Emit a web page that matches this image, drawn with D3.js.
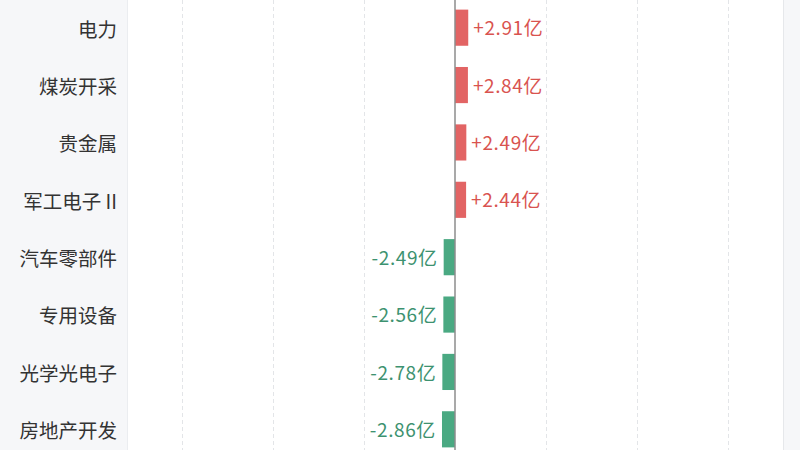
<!DOCTYPE html>
<html>
<head>
<meta charset="utf-8">
<script src="https://cdn.jsdelivr.net/npm/d3@7"></script>
<style>
  html, body { margin: 0; padding: 0; background: #fff; }
  svg { display: block; font-family: "Noto Sans CJK SC", "Noto Sans", sans-serif; }
</style>
</head>
<body>
<div id="chart"></div>
<script>
// industries and net flow (亿)
const industries = ['电力', '煤炭开采', '贵金属', '军工电子 II', '汽车零部件', '专用设备', '光学光电子', '房地产开发'];
const flows = [2.91, 2.84, 2.49, 2.44, -2.49, -2.56, -2.78, -2.86];
const gridTicks = [-60, -40, -20, 20, 40, 60];

const width = 800;
const height = 450;
const plot = { left: 127, right: 783 };

const svg = d3.select('#chart')
  .append('svg')
  .attr('width', width)
  .attr('height', height);

// side panels
svg.append('rect')
  .attr('x', 0).attr('y', 0)
  .attr('width', plot.left).attr('height', height)
  .attr('fill', '#f6f7f9');
svg.append('line')
  .attr('x1', plot.left + 0.5).attr('x2', plot.left + 0.5)
  .attr('y1', 0).attr('y2', height)
  .attr('stroke', '#ebedf0');
svg.append('rect')
  .attr('x', plot.right).attr('y', 0)
  .attr('width', width - plot.right).attr('height', height)
  .attr('fill', '#f6f7f9');
svg.append('line')
  .attr('x1', plot.right + 0.5).attr('x2', plot.right + 0.5)
  .attr('y1', 0).attr('y2', height)
  .attr('stroke', '#e6e8eb');

const xScale = d3.scaleLinear()
  .domain([-72.1, 72.1])
  .range([plot.left, plot.right]);

const yScale = d3.scaleBand()
  .domain(industries)
  .range([-1, 458])
  .paddingInner(0.37)
  .paddingOuter(0.185);

// dashed gridlines
svg.append('g')
  .selectAll('line')
  .data(gridTicks)
  .join('line')
  .attr('x1', d => Math.round(xScale(d)) + 0.5)
  .attr('x2', d => Math.round(xScale(d)) + 0.5)
  .attr('y1', 0).attr('y2', height)
  .attr('stroke', '#e3e5e8')
  .attr('stroke-dasharray', '4,3');

const data = industries.map((name, i) => ({ name, value: flows[i] }));

// bars
svg.append('g')
  .selectAll('rect')
  .data(data)
  .join('rect')
  .attr('x', d => xScale(Math.min(0, d.value)))
  .attr('y', d => yScale(d.name))
  .attr('width', d => Math.abs(xScale(d.value) - xScale(0)))
  .attr('height', yScale.bandwidth())
  .attr('fill', d => d.value >= 0 ? '#e26464' : '#4aa982');

// zero line
svg.append('line')
  .attr('x1', xScale(0)).attr('x2', xScale(0))
  .attr('y1', 0).attr('y2', height)
  .attr('stroke', '#8c8c8c')
  .attr('stroke-width', 1.5);

// value labels
svg.append('g')
  .selectAll('text')
  .data(data)
  .join('text')
  .attr('x', d => d.value >= 0 ? xScale(d.value) + 5 : xScale(d.value) - 6)
  .attr('y', d => yScale(d.name) + yScale.bandwidth() / 2 + 1)
  .attr('dy', '0.35em')
  .attr('text-anchor', d => d.value >= 0 ? 'start' : 'end')
  .attr('font-size', 19)
  .attr('letter-spacing', 0.6)
  .attr('fill', d => d.value >= 0 ? '#d9534f' : '#3d9270')
  .text(d => (d.value >= 0 ? '+' : '') + d.value.toFixed(2) + '亿');

// category labels
svg.append('g')
  .selectAll('text')
  .data(data)
  .join('text')
  .attr('x', 117)
  .attr('y', d => yScale(d.name) + yScale.bandwidth() / 2 + 2)
  .attr('dy', '0.35em')
  .attr('text-anchor', 'end')
  .attr('font-size', 19.5)
  .attr('fill', '#333')
  .text(d => d.name);
</script>
</body>
</html>
